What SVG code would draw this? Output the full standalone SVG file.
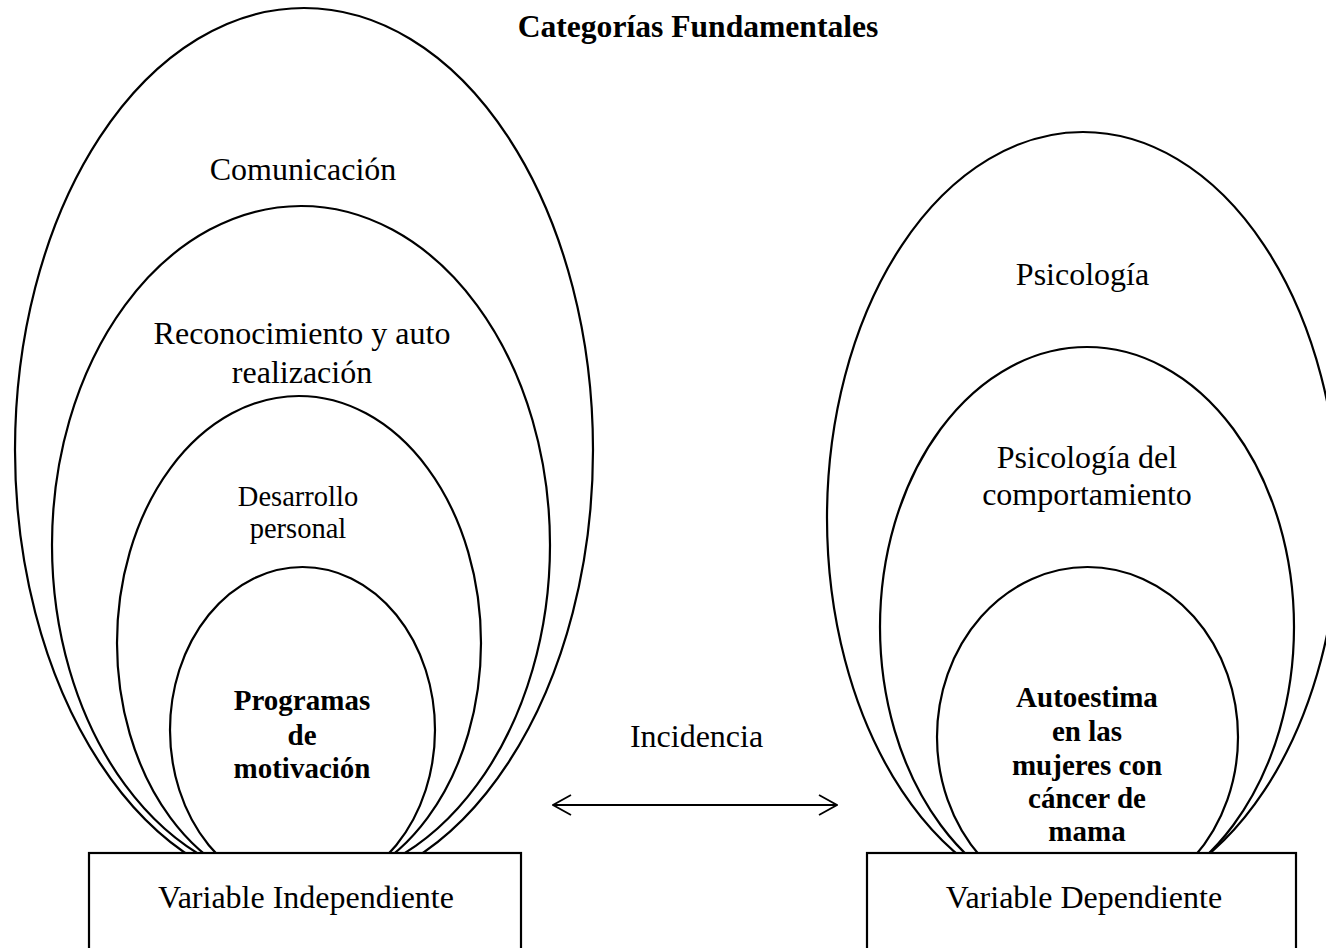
<svg xmlns="http://www.w3.org/2000/svg" width="1326" height="948" viewBox="0 0 1326 948">
<defs>
<style>
.e{fill:none;stroke:#000;stroke-width:2.2}
.box{fill:#fff;stroke:#000;stroke-width:2.2}
.t{font-family:"Liberation Serif","Times New Roman",serif;font-size:32px;fill:#000;text-anchor:middle}
.s{font-size:28.5px}
.b{font-weight:bold;font-size:29px}
.title{font-weight:bold;font-size:31.6px}
.c{fill:none;stroke:#000;stroke-width:1.8}
</style>
<marker id="ah" viewBox="0 0 20 24" refX="19" refY="12" markerWidth="20" markerHeight="24" markerUnits="userSpaceOnUse" orient="auto-start-reverse">
<path d="M1,2 L19,12 L1,22" fill="none" stroke="#000" stroke-width="1.8"/>
</marker>
</defs>
<rect width="1326" height="948" fill="#fff"/>
<text class="t title" x="698" y="37">Categorías Fundamentales</text>

<g id="comunicacion">
<ellipse class="e" cx="304" cy="450" rx="289" ry="442"/>
<text class="t" x="303" y="180">Comunicación</text>
</g>
<g id="reconocimiento">
<ellipse class="e" cx="301" cy="545" rx="249" ry="339"/>
<text class="t" x="302" y="344">Reconocimiento y auto</text>
<text class="t" x="302" y="383">realización</text>
</g>
<g id="desarrollo">
<ellipse class="e" cx="299" cy="643" rx="182" ry="247"/>
<text class="t s" x="298" y="506">Desarrollo</text>
<text class="t s" x="298" y="538">personal</text>
</g>
<g id="programas">
<ellipse class="e" cx="302.5" cy="730" rx="132.5" ry="163"/>
<text class="t b" x="302" y="710">Programas</text>
<text class="t b" x="302" y="745">de</text>
<text class="t b" x="302" y="778">motivación</text>
</g>
<g id="variable-independiente">
<rect class="box" x="89" y="853" width="432" height="110"/>
<text class="t" x="306" y="908">Variable Independiente</text>
</g>

<g id="psicologia">
<ellipse class="e" cx="1083" cy="518" rx="256" ry="386"/>
<text class="t" x="1082.5" y="285">Psicología</text>
</g>
<g id="psicologia-comportamiento">
<ellipse class="e" cx="1087" cy="627" rx="207" ry="280"/>
<text class="t" x="1087" y="468">Psicología del</text>
<text class="t" x="1087" y="505">comportamiento</text>
</g>
<g id="autoestima">
<ellipse class="e" cx="1087.5" cy="737" rx="150.5" ry="170"/>
<text class="t b" x="1087" y="707">Autoestima</text>
<text class="t b" x="1087" y="741">en las</text>
<text class="t b" x="1087" y="775">mujeres con</text>
<text class="t b" x="1087" y="808">cáncer de</text>
<text class="t b" x="1087" y="841">mama</text>
</g>
<g id="variable-dependiente">
<rect class="box" x="867" y="853" width="429" height="110"/>
<text class="t" x="1084" y="908">Variable Dependiente</text>
</g>

<g id="connectors">
<line class="c" x1="553" y1="805" x2="837" y2="805" marker-start="url(#ah)" marker-end="url(#ah)"/>
<text class="t" x="696.5" y="747">Incidencia</text>
</g>
</svg>
